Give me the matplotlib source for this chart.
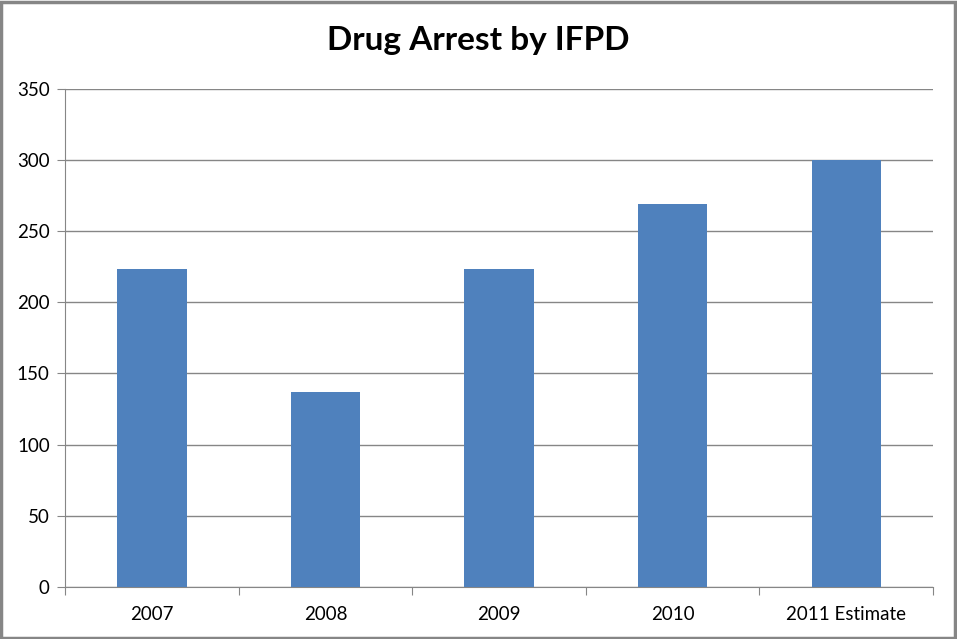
import matplotlib
matplotlib.use("Agg")
import matplotlib.pyplot as plt
from matplotlib.patches import Rectangle

categories = ["2007", "2008", "2009", "2010", "2011 Estimate"]
arrests = [223, 137, 223, 269, 300]
y_ticks = [0, 50, 100, 150, 200, 250, 300, 350]

plt.rcParams['font.family'] = ['Lato', 'DejaVu Sans']

fig = plt.figure(figsize=(9.57, 6.39), dpi=100)
ax = fig.add_axes([0.068, 0.0815, 0.907, 0.780])

x = range(len(categories))
ax.bar(x, arrests, width=0.4, color="#4F81BD", zorder=3)

ax.set_xlim(-0.5, len(categories) - 0.5)
ax.set_ylim(0, 350)
ax.set_yticks(y_ticks)
ax.set_yticklabels([str(v) for v in y_ticks], fontsize=13.5)
ax.yaxis.grid(True, color="#868686", linewidth=1, zorder=0)

# category labels centred, tick marks on boundaries
ax.set_xticks([i - 0.5 for i in range(len(categories) + 1)])
ax.set_xticklabels([])
ax.set_xticks(list(x), minor=True)
ax.set_xticklabels(categories, minor=True, fontsize=13.5)
ax.tick_params(axis="x", which="minor", length=0, pad=14)
ax.tick_params(axis="x", which="major", length=6, color="#868686", direction="out")
ax.tick_params(axis="y", length=6, color="#868686", direction="out", pad=5)

for side in ["top", "right"]:
    ax.spines[side].set_visible(False)
for side in ["left", "bottom"]:
    ax.spines[side].set_color("#868686")

fig.text(0.5, 0.937, "Drug Arrest by IFPD", ha="center", va="center",
         fontsize=24, fontweight="bold")

fig.patches.append(Rectangle((0.001, 0.0015), 0.997, 0.996, transform=fig.transFigure,
                             fill=False, edgecolor="#868686", linewidth=2.5))

fig.savefig("out.png", dpi=100)
